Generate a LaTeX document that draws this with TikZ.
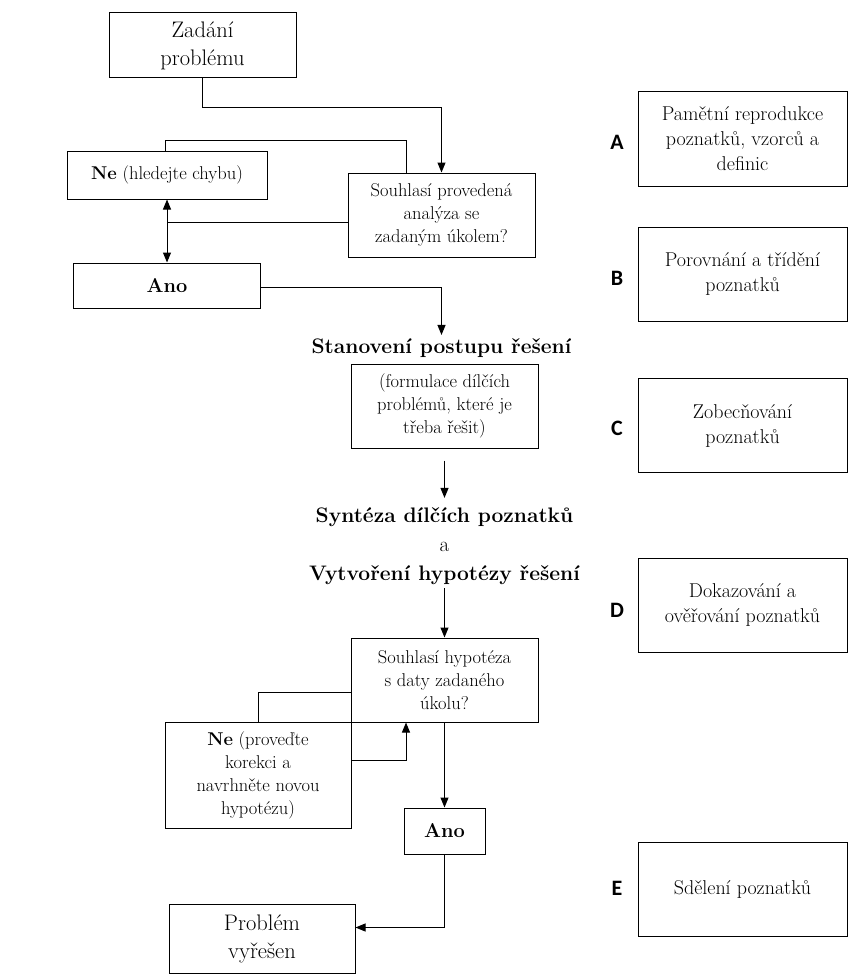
\documentclass[tikz,border=0pt]{standalone}
\usepackage{fontspec}
\newfontfamily\lblfont{Carlito}
\usetikzlibrary{arrows.meta}
\tikzset{
  box/.style={draw, line width=1pt, align=center, inner sep=2pt},
  sidebox/.style={box, minimum width=209pt, minimum height=94pt, font=\fontsize{20}{25}\selectfont},
  arr/.style={-{Triangle[length=10pt,width=8pt]}, line width=1pt},
  ln/.style={line width=1pt},
  lbl/.style={font=\lblfont\fontsize{22}{26}\selectfont\bfseries},
}
\begin{document}
\begin{tikzpicture}[x=1pt,y=-1pt, every node/.style={font=\fontsize{18.5}{23}\selectfont}]
    \useasboundingbox (0,0) rectangle (849,979);

    % Main flow, upper part
    \node[box, minimum width=187pt, minimum height=65pt, font=\fontsize{22.5}{28}\selectfont] (zadani) at (202.5,45.5) {Zadání\\problému};
    \node[box, minimum width=187pt, minimum height=84pt] (souhlas1) at (441.5,215) {Souhlasí provedená\\analýza se\\zadaným úkolem?};
    \node[box, minimum width=200pt, minimum height=48pt] (nechyba) at (167,175) {\textbf{Ne} (hledejte chybu)};
    \node[box, minimum width=187pt, minimum height=45pt, font=\fontsize{20}{24}\selectfont\bfseries] (ano1) at (167,285.5) {Ano};
    \node[font=\fontsize{21}{25}\selectfont\bfseries] (stanov) at (441.5,348) {Stanovení postupu řešení};
    \node[box, minimum width=187pt, minimum height=84pt] (formul) at (444.5,406) {(formulace dílčích\\problémů, které je\\třeba řešit)};
    \node[align=center, font=\fontsize{21}{29}\selectfont] (synteza) at (444.5,546) {\textbf{Syntéza dílčích poznatků}\\a\\\textbf{Vytvoření hypotézy řešení}};

    % Main flow, lower part
    \node[box, minimum width=187pt, minimum height=84pt] (souhlas2) at (444.5,680) {Souhlasí hypotéza\\s daty zadaného\\úkolu?};
    \node[box, minimum width=186pt, minimum height=106pt] (nekor) at (258,775) {\textbf{Ne} (proveďte\\korekci a\\navrhněte novou\\hypotézu)};
    \node[box, minimum width=81pt, minimum height=46pt, font=\fontsize{20}{24}\selectfont\bfseries] (ano2) at (444.5,831) {Ano};
    \node[box, minimum width=186pt, minimum height=69pt, font=\fontsize{22.5}{28}\selectfont] (vyresen) at (262,938.5) {Problém\\vyřešen};

    % Connectors
    \draw[arr] (zadani.south) -- ++(0,29) -| (souhlas1.north);
    \draw[ln] ([xshift=-2pt]nechyba.north) -- ++(0,-10) -| ([xshift=-35.5pt]souhlas1.north);
    \draw[ln] ([yshift=-7pt]souhlas1.west) -- ([yshift=-7pt]souhlas1.west -| nechyba.south);
    \draw[{Triangle[length=10pt,width=8pt]}-{Triangle[length=10pt,width=8pt]}, line width=1pt] (nechyba.south) -- (ano1.north);
    \draw[arr] ([yshift=-2pt]ano1.east) -| (stanov.north);
    \draw[arr] ([yshift=-12pt]formul.south) -- ([yshift=6pt]synteza.north);
    \draw[arr] (synteza.south) -- (souhlas2.north);
    \draw[ln] (nekor.north) |- ([yshift=-12pt]souhlas2.west);
    \draw[arr] ([yshift=15pt]nekor.east) -| ([xshift=-38.5pt]souhlas2.south);
    \draw[arr] (souhlas2.south) -- (ano2.north);
    \draw[arr] (ano2.south) |- ([yshift=11pt]vyresen.east);

    % Levels A--E
    \node[sidebox] (boxA) at (742.5,139) {Pamětní reprodukce\\poznatků, vzorců a\\definic};
    \node[sidebox] (boxB) at (742.5,274) {Porovnání a třídění\\poznatků};
    \node[sidebox] (boxC) at (742.5,425.5) {Zobecňování\\poznatků};
    \node[sidebox] (boxD) at (742.5,605) {Dokazování a\\ověřování poznatků};
    \node[sidebox] (boxE) at (742.5,889) {Sdělení poznatků};
    \node[lbl] (labA) at (617,142) {A};
    \node[lbl] (labB) at (617,278) {B};
    \node[lbl] (labC) at (617,428) {C};
    \node[lbl] (labD) at (617,610) {D};
    \node[lbl] (labE) at (617,888) {E};
\end{tikzpicture}
\end{document}
